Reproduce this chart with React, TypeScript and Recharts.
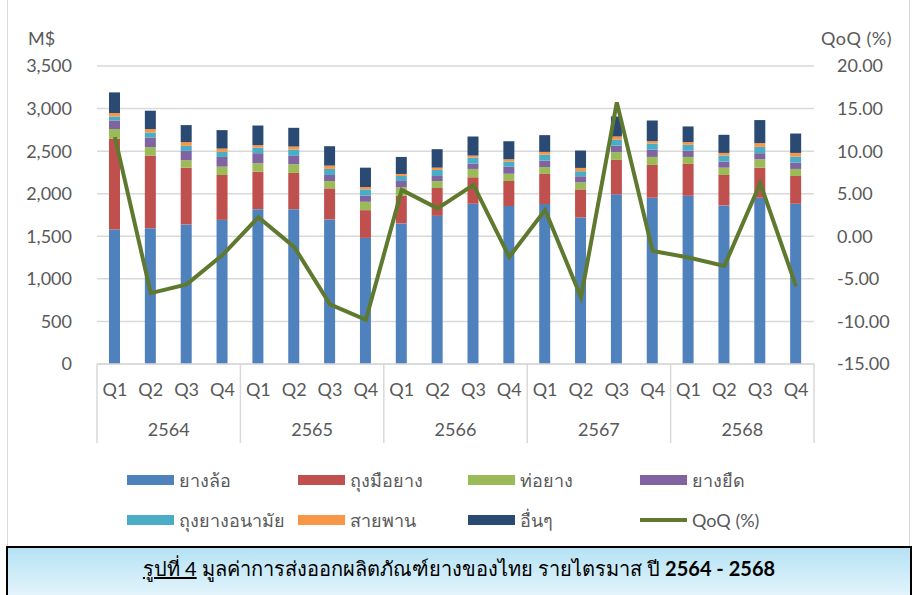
import { ComposedChart, Bar, Line, XAxis, YAxis, CartesianGrid } from "recharts"

const quarters = ["Q1", "Q2", "Q3", "Q4", "Q1", "Q2", "Q3", "Q4", "Q1", "Q2", "Q3", "Q4", "Q1", "Q2", "Q3", "Q4", "Q1", "Q2", "Q3", "Q4"]
const years = ["2564", "2565", "2566", "2567", "2568"]

// M$ per quarter
const tire = [1580, 1595, 1639, 1693, 1819, 1819, 1698, 1481, 1651, 1740, 1882, 1855, 1878, 1721, 1993, 1953, 1976, 1863, 1953, 1882]
const glove = [1065, 853, 667, 527, 440, 425, 365, 326, 325, 327, 311, 294, 354, 330, 404, 385, 374, 357, 353, 326]
const hose = [115, 99, 87, 98, 99, 102, 86, 98, 99, 82, 98, 86, 82, 83, 91, 94, 82, 86, 99, 83]
const elastic = [100, 113, 110, 114, 118, 98, 71, 71, 74, 59, 62, 83, 75, 71, 78, 86, 75, 71, 71, 74]
const condom = [47, 59, 59, 59, 66, 74, 71, 75, 59, 71, 71, 59, 70, 59, 67, 71, 67, 71, 74, 71]
const belt = [40, 40, 44, 39, 28, 36, 39, 28, 24, 27, 24, 28, 32, 39, 39, 28, 32, 31, 44, 43]
const other = [243, 216, 200, 217, 231, 220, 228, 227, 200, 217, 224, 212, 197, 204, 235, 243, 184, 213, 271, 228]
const qoq = [11.65, -6.67, -5.65, -2.2, 2.23, -1.25, -8.0, -9.8, 5.44, 3.28, 6.03, -2.43, 3.08, -7.15, 15.73, -1.72, -2.5, -3.49, 6.23, -5.88]

const leftTicks = [0, 500, 1000, 1500, 2000, 2500, 3000, 3500]
const rightTicks = [-15, -10, -5, 0, 5, 10, 15, 20]

const barSeries = [
  { key: "tire", name: "ยางล้อ", color: "#4f81bd" },
  { key: "glove", name: "ถุงมือยาง", color: "#c0504d" },
  { key: "hose", name: "ท่อยาง", color: "#9bbb59" },
  { key: "elastic", name: "ยางยืด", color: "#8064a2" },
  { key: "condom", name: "ถุงยางอนามัย", color: "#4bacc6" },
  { key: "belt", name: "สายพาน", color: "#f79646" },
  { key: "other", name: "อื่นๆ", color: "#2a4a73" },
]
const lineColor = "#5f7a2f"

const data = quarters.map((q, i) => ({
  q,
  year: years[Math.floor(i / 4)],
  tire: tire[i],
  glove: glove[i],
  hose: hose[i],
  elastic: elastic[i],
  condom: condom[i],
  belt: belt[i],
  other: other[i],
  qoq: qoq[i],
}))

const FONT = "Lato, 'Open Sans', sans-serif"
const TEXT = "#595959"
const GRID = "#d9d9d9"
const W = 915
const H = 546
const LEFT_W = 97
const RIGHT_W = 101
const TOP = 66
const Q_AXIS_H = 44
const Y_AXIS_H = 37
const BOTTOM = 101
const PLOT_W = W - LEFT_W - RIGHT_W
const PLOT_BOTTOM = H - BOTTOM - Y_AXIS_H - Q_AXIS_H
const SEP_BOTTOM = H - BOTTOM - 2

function YearTick(props: any) {
  const { x, y, payload, index } = props
  const half = PLOT_W / years.length / 2
  return (
    <g>
      {index === 0 && (
        <line x1={x - half} x2={x - half} y1={PLOT_BOTTOM} y2={SEP_BOTTOM} stroke={GRID} strokeWidth={1.5} />
      )}
      <line x1={x + half} x2={x + half} y1={PLOT_BOTTOM} y2={SEP_BOTTOM} stroke={GRID} strokeWidth={1.5} />
      <text x={x} y={y} dy="0.71em" textAnchor="middle" fill={TEXT} fontSize={18} fontFamily={FONT}>
        {payload.value}
      </text>
    </g>
  )
}

const legendCols = [127, 298, 468, 640]
const legendRows = [480, 520]

export default function App() {
  const items = [...barSeries.map((s) => ({ name: s.name, color: s.color, line: false })), { name: "QoQ (%)", color: lineColor, line: true }]
  return (
    <div style={{ position: "absolute", left: 0, top: 0, width: W, height: 595, background: "#fff", overflow: "hidden", fontFamily: FONT }}>
      <div style={{ position: "absolute", left: 7, top: -1, width: 903, height: 548, border: "1px solid #d9d9d9", boxSizing: "border-box" }} />
      <div style={{ position: "absolute", left: 0, top: 0 }}>
        <ComposedChart width={W} height={H} data={data} margin={{ top: TOP, right: 0, left: 0, bottom: BOTTOM }}>
          <CartesianGrid yAxisId="left" vertical={false} stroke={GRID} strokeWidth={1.5} />
          <XAxis
            dataKey="q"
            interval={0}
            height={Q_AXIS_H}
            axisLine={{ stroke: GRID, strokeWidth: 1.5 }}
            tickLine={false}
            tickMargin={13}
            tick={{ fill: TEXT, fontSize: 18, fontFamily: FONT }}
          />
          <XAxis
            xAxisId="year"
            dataKey="year"
            allowDuplicatedCategory={false}
            height={Y_AXIS_H}
            axisLine={false}
            tickLine={false}
            tickMargin={9}
            tick={<YearTick />}
          />
          <YAxis
            yAxisId="left"
            width={LEFT_W}
            domain={[0, 3500]}
            ticks={leftTicks}
            axisLine={false}
            tickLine={false}
            tickMargin={19}
            tickFormatter={(v: number) => v.toLocaleString("en-US")}
            tick={{ fill: TEXT, fontSize: 18, fontFamily: FONT }}
          />
          <YAxis
            yAxisId="right"
            orientation="right"
            width={RIGHT_W}
            domain={[-15, 20]}
            ticks={rightTicks}
            axisLine={false}
            tickLine={false}
            tickMargin={17}
            tickFormatter={(v: number) => v.toFixed(2)}
            tick={{ fill: TEXT, fontSize: 18, fontFamily: FONT }}
          />
          {barSeries.map((s) => (
            <Bar key={s.key} yAxisId="left" dataKey={s.key} name={s.name} stackId="a" fill={s.color} barSize={11} isAnimationActive={false} />
          ))}
          <Line yAxisId="right" dataKey="qoq" name="QoQ (%)" stroke={lineColor} strokeWidth={4} dot={false} isAnimationActive={false} />
        </ComposedChart>
      </div>

      <div style={{ position: "absolute", left: 28, top: 27, fontSize: 18, color: TEXT, lineHeight: "22px" }}>M$</div>
      <div style={{ position: "absolute", right: 23, top: 27, fontSize: 18, color: TEXT, lineHeight: "22px", letterSpacing: 0.5 }}>QoQ (%)</div>

      {items.map((it, i) => {
        const x = legendCols[i % 4]
        const y = legendRows[Math.floor(i / 4)]
        return (
          <div key={it.name} style={{ position: "absolute", left: x, top: y - 12, height: 24, display: "flex", alignItems: "center", fontSize: 18, color: TEXT, whiteSpace: "nowrap" }}>
            <div style={{ width: 47, height: it.line ? 4 : 10, background: it.color, marginRight: 5 }} />
            <span>{it.name}</span>
          </div>
        )
      })}

      <div
        style={{
          position: "absolute",
          left: 6,
          top: 546,
          width: 906,
          height: 54,
          border: "2px solid #000",
          boxSizing: "border-box",
          background: "linear-gradient(#b5e2f4, #e6f5fc)",
          textAlign: "center",
          fontSize: 20,
          color: "#000",
          paddingTop: 5,
        }}
      >
        <span style={{ textDecoration: "underline" }}>รูปที่ 4</span> มูลค่าการส่งออกผลิตภัณฑ์ยางของไทย รายไตรมาส ปี <b>2564 - 2568</b>
      </div>
    </div>
  )
}
